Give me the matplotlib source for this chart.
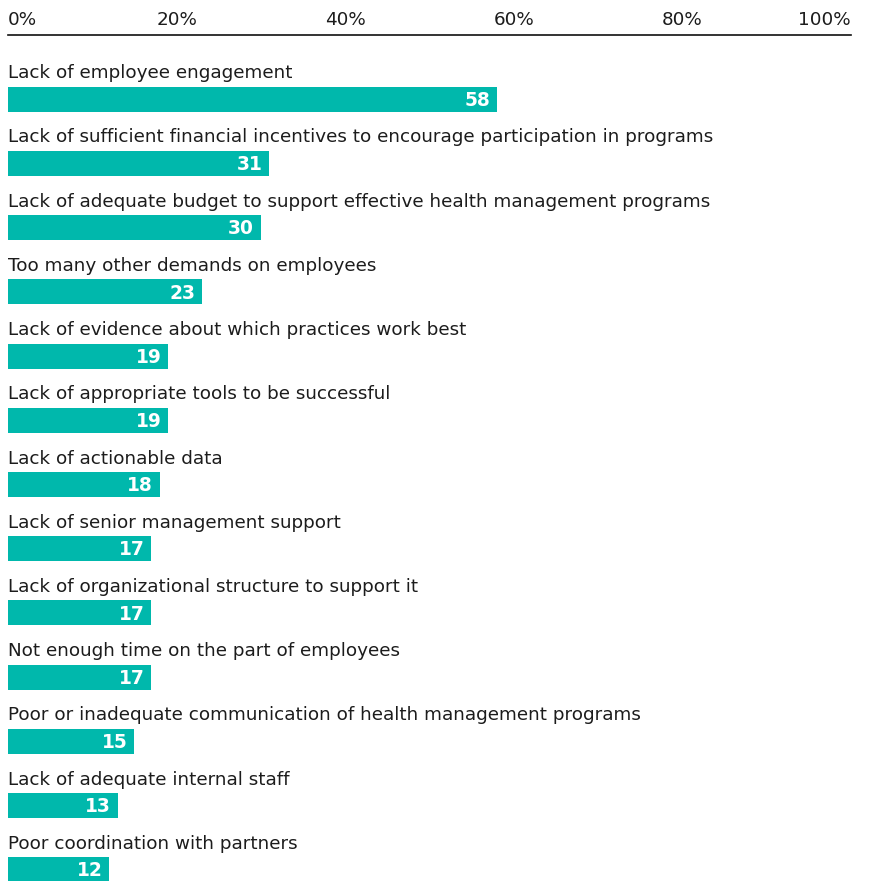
import matplotlib
matplotlib.use("Agg")
import matplotlib.pyplot as plt

categories = [
    "Lack of employee engagement",
    "Lack of sufficient financial incentives to encourage participation in programs",
    "Lack of adequate budget to support effective health management programs",
    "Too many other demands on employees",
    "Lack of evidence about which practices work best",
    "Lack of appropriate tools to be successful",
    "Lack of actionable data",
    "Lack of senior management support",
    "Lack of organizational structure to support it",
    "Not enough time on the part of employees",
    "Poor or inadequate communication of health management programs",
    "Lack of adequate internal staff",
    "Poor coordination with partners",
]
values = [58, 31, 30, 23, 19, 19, 18, 17, 17, 17, 15, 13, 12]
tick_values = [0, 20, 40, 60, 80, 100]
tick_labels = ["0%", "20%", "40%", "60%", "80%", "100%"]

W, H = 869, 881
fig = plt.figure(figsize=(W / 100, H / 100), dpi=100)
left_px, right_px, top_px, bottom_px = 8, 851, 35, 881
ax = fig.add_axes([left_px / W, 1 - bottom_px / H,
                   (right_px - left_px) / W, (bottom_px - top_px) / H])

row_px = 64.2
first_center_px = 99.3
top_lim = -(first_center_px - top_px) / row_px
bottom_lim = top_lim + (bottom_px - top_px) / row_px

teal = "#00B8AC"
text_color = "#1c1c1c"
font = "DejaVu Sans"
fs = 13.2

ys = list(range(len(categories)))
ax.barh(ys, values, height=25 / row_px, color=teal, align="center", clip_on=True)

for y, cat, v in zip(ys, categories, values):
    ax.text(0, y - 21 / row_px, cat, ha="left", va="baseline",
            fontsize=fs, color=text_color, family=font)
    ax.text(v - 0.8, y + 0.02, str(v), ha="right", va="center",
            fontsize=13.4, fontweight="bold", color="white", family=font)

ax.set_xlim(0, 100)
ax.set_ylim(bottom_lim, top_lim)
ax.xaxis.tick_top()
ax.set_xticks(tick_values)
ax.set_xticklabels(tick_labels, fontsize=fs, color=text_color, family=font)
ax.tick_params(axis="x", length=0, pad=4)
labels = ax.get_xticklabels()
labels[0].set_ha("left")
labels[-1].set_ha("right")
ax.set_yticks([])
for side in ("left", "right", "bottom"):
    ax.spines[side].set_visible(False)
ax.spines["top"].set_color("#111111")
ax.spines["top"].set_linewidth(1.2)

fig.savefig("out.png", dpi=100)
